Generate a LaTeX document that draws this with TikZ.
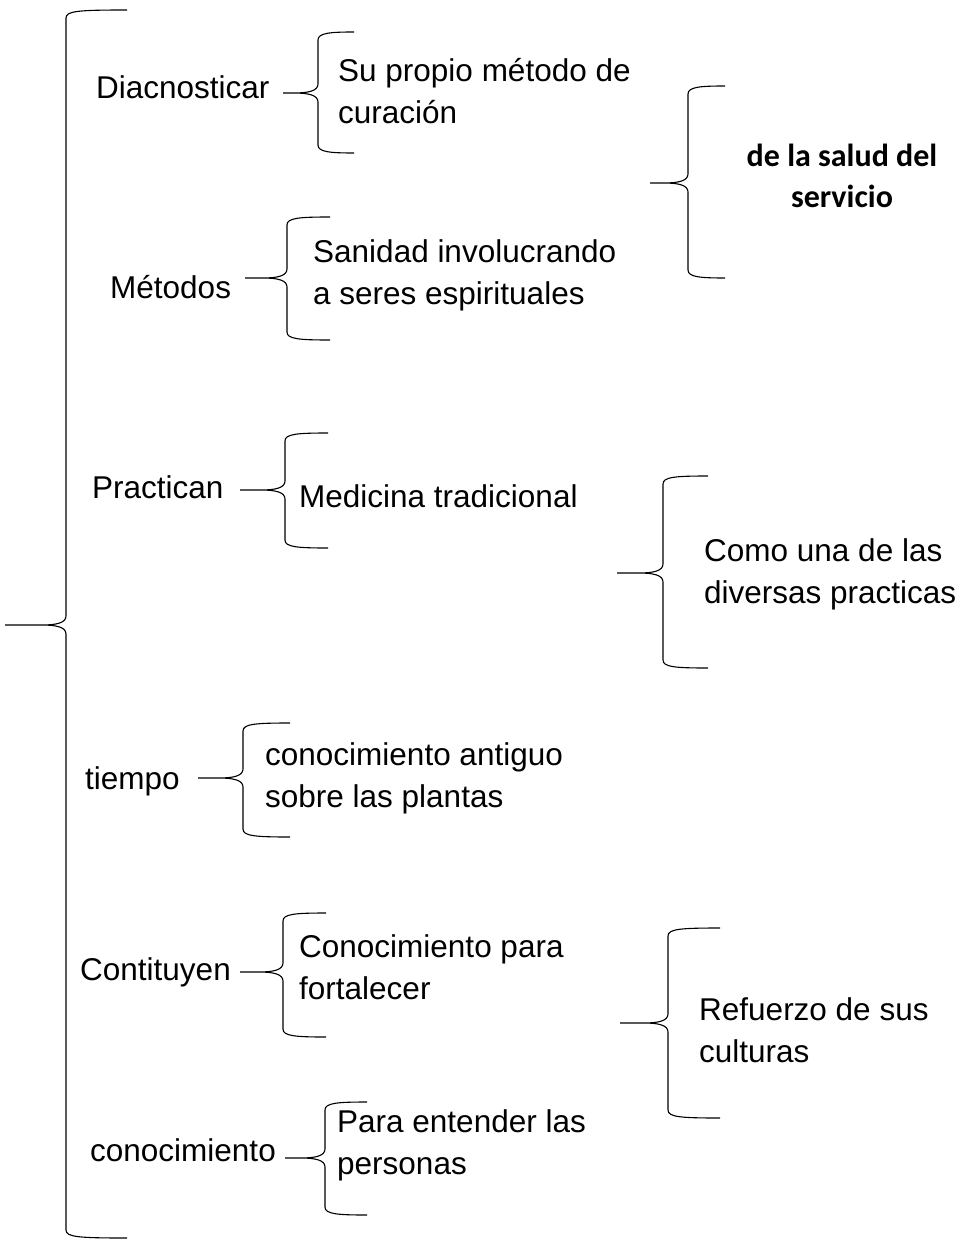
\documentclass[tikz,border=0pt]{standalone}
\usepackage{fontspec}
\setmainfont{Liberation Sans}
\newfontfamily\boldcal{Carlito}
\newcommand\brc[6]{% arm end x, top y, vertical x, tip y, tip x, bottom y
  \draw[brcline] (#1,#2) .. controls (#3+12,#2) and (#3,#2+1) .. (#3,#2+8)
    -- (#3,#4-9) .. controls (#3,#4-2) and (#3-10,#4) .. (#3-24,#4) -- (#5,#4)
    (#3-24,#4) .. controls (#3-10,#4) and (#3,#4+2) .. (#3,#4+9)
    -- (#3,#6-8) .. controls (#3,#6-1) and (#3+12,#6) .. (#1,#6);}
\tikzset{
  brcline/.style={draw=black, line width=1.1pt},
  one/.style={anchor=base west, inner sep=0pt, font=\fontsize{31.5}{42}\selectfont},
  two/.style={anchor=north west, inner sep=0pt, align=left, font=\fontsize{31.5}{42}\selectfont},
  bold/.style={anchor=north, inner sep=0pt, align=center, font=\boldcal\bfseries\fontsize{32}{41}\selectfont}
}
\begin{document}
\begin{tikzpicture}[x=1pt,y=-1pt]
\useasboundingbox (0,0) rectangle (962,1241);
% big brace
\brc{127}{10}{66}{625}{5}{1238}
% left labels
\node[one] (diag) at (96,99) {Diacnosticar};
\node[one] (met) at (110,298) {Métodos};
\node[one] (prac) at (92,498) {Practican};
\node[one] (tiem) at (85,789) {tiempo};
\node[one] (cont) at (80,980) {Contituyen};
\node[one] (conoc) at (90,1161) {conocimiento};
% second-level braces
\brc{354}{32}{318}{93}{283}{153}
\brc{330}{217}{287}{278}{245}{340}
\brc{328}{433}{285}{490}{240}{548}
\brc{290}{723}{243}{778}{198}{837}
\brc{326}{913}{283}{972}{240}{1037}
\brc{367}{1102}{325}{1158}{285}{1215}
% second-level texts
\node[two] (su) at (338,81-29.4) {\strut Su propio método de\\curación};
\node[two] (san) at (313,262-29.4) {\strut Sanidad involucrando\\a seres espirituales};
\node[one] (med) at (299,507) {Medicina tradicional};
\node[two] (cant) at (265,765-29.4) {\strut conocimiento antiguo\\sobre las plantas};
\node[two] (cpara) at (299,957-29.4) {\strut Conocimiento para\\fortalecer};
\node[two] (para) at (337,1132-29.4) {\strut Para entender las\\personas};
% third-level braces
\brc{725}{86}{688}{183}{650}{278}
\brc{708}{476}{663}{573}{617}{668}
\brc{720}{928}{668}{1023}{620}{1118}
% third-level texts
\node[bold] (salud) at (842,166-28.7) {\strut de la salud del\\servicio};
\node[two] (como) at (704,561-29.4) {\strut Como una de las\\diversas practicas};
\node[two] (ref) at (699,1020-29.4) {\strut Refuerzo de sus\\culturas};
\end{tikzpicture}
\end{document}
